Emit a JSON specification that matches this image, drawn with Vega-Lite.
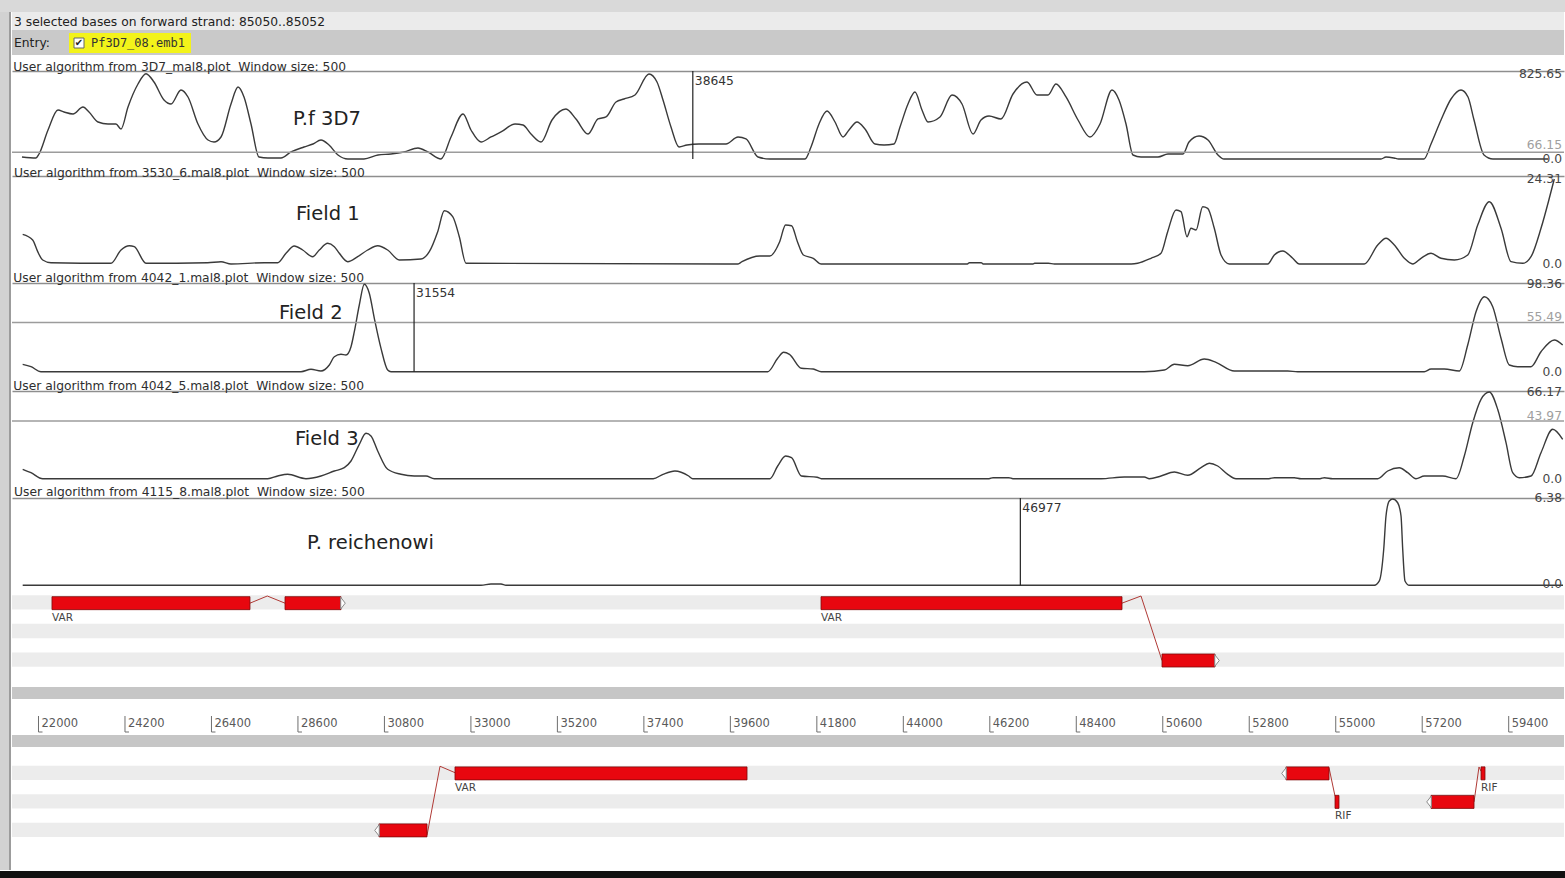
{
  "$schema": "https://vega.github.io/schema/vega-lite/v6.json",
  "background": "white",
  "padding": 0,
  "config": {
    "font": "DejaVu Sans",
    "view": {"stroke": null},
    "title": {"anchor": "start", "fontSize": 12.3, "fontWeight": "normal", "color": "#2e2e2e", "offset": -6, "font": "DejaVu Sans"}
  },
  "datasets": {
    "pf3d7": [
      {"pos": 21580, "score": 19.4}, {"pos": 21936, "score": 9.7}, {"pos": 22013, "score": 48.4}, {"pos": 22242, "score": 280.7},
      {"pos": 22496, "score": 474.3}, {"pos": 22649, "score": 455}, {"pos": 22878, "score": 435.6}, {"pos": 23132, "score": 503.4},
      {"pos": 23285, "score": 455}, {"pos": 23514, "score": 358.2}, {"pos": 23768, "score": 338.8}, {"pos": 23971, "score": 338.8},
      {"pos": 24099, "score": 290.4}, {"pos": 24277, "score": 503.4}, {"pos": 24531, "score": 726}, {"pos": 24735, "score": 825.65},
      {"pos": 24938, "score": 745.4}, {"pos": 25193, "score": 571.1}, {"pos": 25371, "score": 532.4}, {"pos": 25625, "score": 667.9},
      {"pos": 25803, "score": 600.2}, {"pos": 26057, "score": 338.8}, {"pos": 26312, "score": 183.9}, {"pos": 26465, "score": 164.6},
      {"pos": 26643, "score": 213}, {"pos": 26897, "score": 532.4}, {"pos": 27075, "score": 697}, {"pos": 27228, "score": 600.2},
      {"pos": 27406, "score": 338.8}, {"pos": 27609, "score": 19.4}, {"pos": 27838, "score": 9.7}, {"pos": 28169, "score": 9.7},
      {"pos": 28423, "score": 67.8}, {"pos": 28754, "score": 116.2}, {"pos": 28983, "score": 145.2}, {"pos": 29186, "score": 183.9},
      {"pos": 29390, "score": 135.5}, {"pos": 29619, "score": 38.7}, {"pos": 29873, "score": 0}, {"pos": 30280, "score": 0},
      {"pos": 30637, "score": 38.7}, {"pos": 30967, "score": 48.4}, {"pos": 31298, "score": 67.8}, {"pos": 31654, "score": 106.5},
      {"pos": 31908, "score": 67.8}, {"pos": 32239, "score": 0}, {"pos": 32494, "score": 213}, {"pos": 32799, "score": 435.6},
      {"pos": 33002, "score": 280.7}, {"pos": 33257, "score": 164.6}, {"pos": 33511, "score": 213}, {"pos": 33766, "score": 261.4},
      {"pos": 34122, "score": 338.8}, {"pos": 34325, "score": 329.1}, {"pos": 34529, "score": 242}, {"pos": 34783, "score": 164.6},
      {"pos": 35063, "score": 377.5}, {"pos": 35419, "score": 484}, {"pos": 35673, "score": 387.2}, {"pos": 35979, "score": 242},
      {"pos": 36233, "score": 387.2}, {"pos": 36437, "score": 406.6}, {"pos": 36691, "score": 551.8}, {"pos": 36894, "score": 580.8},
      {"pos": 37174, "score": 619.5}, {"pos": 37530, "score": 822.8}, {"pos": 37734, "score": 745.4}, {"pos": 37887, "score": 571.1},
      {"pos": 38090, "score": 309.8}, {"pos": 38294, "score": 116.2}, {"pos": 38497, "score": 135.5}, {"pos": 38802, "score": 145.2},
      {"pos": 39184, "score": 145.2}, {"pos": 39489, "score": 145.2}, {"pos": 39795, "score": 213}, {"pos": 39998, "score": 193.6},
      {"pos": 40303, "score": 19.4}, {"pos": 40609, "score": 0}, {"pos": 41499, "score": 0}, {"pos": 41652, "score": 116.2},
      {"pos": 41855, "score": 338.8}, {"pos": 42059, "score": 464.6}, {"pos": 42262, "score": 358.2}, {"pos": 42466, "score": 213},
      {"pos": 42618, "score": 280.7}, {"pos": 42822, "score": 358.2}, {"pos": 43025, "score": 290.4}, {"pos": 43280, "score": 145.2},
      {"pos": 43509, "score": 135.5}, {"pos": 43763, "score": 145.2}, {"pos": 43916, "score": 309.8}, {"pos": 44119, "score": 532.4},
      {"pos": 44297, "score": 648.6}, {"pos": 44475, "score": 474.3}, {"pos": 44628, "score": 358.2}, {"pos": 44933, "score": 406.6},
      {"pos": 45238, "score": 619.5}, {"pos": 45493, "score": 532.4}, {"pos": 45773, "score": 242}, {"pos": 45976, "score": 377.5},
      {"pos": 46180, "score": 416.2}, {"pos": 46485, "score": 387.2}, {"pos": 46790, "score": 629.2}, {"pos": 47146, "score": 745.4},
      {"pos": 47401, "score": 619.5}, {"pos": 47681, "score": 619.5}, {"pos": 47884, "score": 726}, {"pos": 48139, "score": 600.2},
      {"pos": 48444, "score": 377.5}, {"pos": 48749, "score": 213}, {"pos": 49003, "score": 338.8}, {"pos": 49309, "score": 667.9},
      {"pos": 49487, "score": 571.1}, {"pos": 49665, "score": 338.8}, {"pos": 49843, "score": 38.7}, {"pos": 50046, "score": 19.4},
      {"pos": 50479, "score": 19.4}, {"pos": 50733, "score": 48.4}, {"pos": 51115, "score": 48.4}, {"pos": 51268, "score": 164.6},
      {"pos": 51522, "score": 222.6}, {"pos": 51751, "score": 183.9}, {"pos": 52005, "score": 38.7}, {"pos": 52158, "score": 0},
      {"pos": 56152, "score": 0}, {"pos": 56279, "score": 19.4}, {"pos": 56483, "score": 9.7}, {"pos": 56600, "score": 0},
      {"pos": 57246, "score": 0}, {"pos": 57424, "score": 145.2}, {"pos": 57678, "score": 377.5}, {"pos": 57933, "score": 580.8},
      {"pos": 58187, "score": 667.9}, {"pos": 58365, "score": 600.2}, {"pos": 58518, "score": 377.5}, {"pos": 58772, "score": 38.7},
      {"pos": 59001, "score": 0}, {"pos": 60400, "score": 0}
    ],
    "field1": [
      {"pos": 21598, "score": 8.49}, {"pos": 21852, "score": 6.86}, {"pos": 21980, "score": 3.52}, {"pos": 22107, "score": 1.14},
      {"pos": 22318, "score": 0.37}, {"pos": 23844, "score": 0.2}, {"pos": 24099, "score": 4.0}, {"pos": 24310, "score": 5.23},
      {"pos": 24437, "score": 4.95}, {"pos": 24735, "score": 0.2}, {"pos": 26304, "score": 0.37}, {"pos": 26643, "score": 0.66},
      {"pos": 26897, "score": 0}, {"pos": 27744, "score": 0.37}, {"pos": 28085, "score": 0.37}, {"pos": 28296, "score": 3.06},
      {"pos": 28507, "score": 5.15}, {"pos": 28721, "score": 4.0}, {"pos": 28975, "score": 2.09}, {"pos": 29143, "score": 4.0},
      {"pos": 29357, "score": 5.92}, {"pos": 29525, "score": 4.95}, {"pos": 29652, "score": 3.06}, {"pos": 29866, "score": 0.66},
      {"pos": 30120, "score": 2.09}, {"pos": 30374, "score": 4.0}, {"pos": 30629, "score": 5.23}, {"pos": 30883, "score": 4.0},
      {"pos": 31178, "score": 1.14}, {"pos": 31730, "score": 1.43}, {"pos": 31942, "score": 3.52}, {"pos": 32155, "score": 9.24},
      {"pos": 32323, "score": 15.24}, {"pos": 32537, "score": 13.53}, {"pos": 32705, "score": 7.81}, {"pos": 32875, "score": 0.2},
      {"pos": 39795, "score": 0}, {"pos": 39896, "score": 0.66}, {"pos": 40352, "score": 2.29}, {"pos": 40604, "score": 2.29},
      {"pos": 40855, "score": 6.38}, {"pos": 41005, "score": 11.15}, {"pos": 41156, "score": 10.95}, {"pos": 41306, "score": 6.38},
      {"pos": 41458, "score": 2.57}, {"pos": 41710, "score": 1.63}, {"pos": 41911, "score": 0}, {"pos": 45630, "score": 0},
      {"pos": 45681, "score": 0.37}, {"pos": 45981, "score": 0.37}, {"pos": 46032, "score": 0}, {"pos": 47300, "score": 0},
      {"pos": 47340, "score": 0.2}, {"pos": 47691, "score": 0.2}, {"pos": 47843, "score": 0}, {"pos": 49800, "score": 0},
      {"pos": 49962, "score": 0.2}, {"pos": 50301, "score": 1.63}, {"pos": 50555, "score": 3.06}, {"pos": 50725, "score": 9.24},
      {"pos": 50937, "score": 15.44}, {"pos": 51064, "score": 14.96}, {"pos": 51217, "score": 7.81}, {"pos": 51318, "score": 10.21},
      {"pos": 51446, "score": 9.72}, {"pos": 51616, "score": 16.39}, {"pos": 51743, "score": 15.93}, {"pos": 51911, "score": 10.21},
      {"pos": 52082, "score": 2.57}, {"pos": 52293, "score": 0}, {"pos": 53270, "score": 0}, {"pos": 53438, "score": 2.57},
      {"pos": 53652, "score": 3.72}, {"pos": 53906, "score": 1.63}, {"pos": 54074, "score": 0}, {"pos": 55727, "score": 0},
      {"pos": 56068, "score": 5.43}, {"pos": 56279, "score": 7.35}, {"pos": 56491, "score": 5.43}, {"pos": 56745, "score": 1.63},
      {"pos": 56959, "score": 0}, {"pos": 57169, "score": 1.63}, {"pos": 57424, "score": 3.06}, {"pos": 57678, "score": 1.63},
      {"pos": 58017, "score": 1.14}, {"pos": 58358, "score": 2.57}, {"pos": 58612, "score": 11.15}, {"pos": 58907, "score": 17.82},
      {"pos": 59205, "score": 10.21}, {"pos": 59459, "score": 0.66}, {"pos": 59757, "score": 0.2}, {"pos": 59968, "score": 2.09},
      {"pos": 60222, "score": 10.21}, {"pos": 60433, "score": 18.79}, {"pos": 60560, "score": 24.31}
    ],
    "field2": [
      {"pos": 21598, "score": 8.33}, {"pos": 21809, "score": 5.63}, {"pos": 22064, "score": 0}, {"pos": 28678, "score": 0},
      {"pos": 28932, "score": 2.7}, {"pos": 29186, "score": 0.79}, {"pos": 29398, "score": 7.54}, {"pos": 29525, "score": 16.88},
      {"pos": 29695, "score": 19.58}, {"pos": 29822, "score": 18.79}, {"pos": 29950, "score": 28.14}, {"pos": 30034, "score": 45.02},
      {"pos": 30161, "score": 75.06}, {"pos": 30288, "score": 98.36}, {"pos": 30415, "score": 88.23}, {"pos": 30543, "score": 60.1},
      {"pos": 30713, "score": 26.33}, {"pos": 30883, "score": 1.91}, {"pos": 30967, "score": 0}, {"pos": 40552, "score": 0},
      {"pos": 40804, "score": 15.08}, {"pos": 40955, "score": 21.83}, {"pos": 41104, "score": 19.58}, {"pos": 41407, "score": 3.83},
      {"pos": 41710, "score": 3.04}, {"pos": 41911, "score": 0}, {"pos": 50131, "score": 0}, {"pos": 50640, "score": 1.91},
      {"pos": 50894, "score": 8.33}, {"pos": 51235, "score": 6.75}, {"pos": 51657, "score": 14.29}, {"pos": 51954, "score": 10.58},
      {"pos": 52420, "score": 0.79}, {"pos": 53778, "score": 0.79}, {"pos": 54033, "score": 0}, {"pos": 57253, "score": 0},
      {"pos": 57424, "score": 3.04}, {"pos": 57762, "score": 3.04}, {"pos": 58144, "score": 0.79}, {"pos": 58358, "score": 30.05},
      {"pos": 58569, "score": 67.52}, {"pos": 58780, "score": 84.41}, {"pos": 58994, "score": 73.15}, {"pos": 59205, "score": 37.59},
      {"pos": 59416, "score": 7.54}, {"pos": 59630, "score": 5.63}, {"pos": 59968, "score": 5.63}, {"pos": 60222, "score": 22.51},
      {"pos": 60560, "score": 35.68}, {"pos": 60774, "score": 30.05}
    ],
    "field3": [
      {"pos": 21598, "score": 7.17}, {"pos": 21809, "score": 4.58}, {"pos": 22107, "score": 0}, {"pos": 27831, "score": 0},
      {"pos": 28085, "score": 2.06}, {"pos": 28339, "score": 3.36}, {"pos": 28805, "score": 0}, {"pos": 29186, "score": 2.06},
      {"pos": 29525, "score": 5.88}, {"pos": 29779, "score": 8.4}, {"pos": 29950, "score": 13.51}, {"pos": 30161, "score": 26.25},
      {"pos": 30331, "score": 34.65}, {"pos": 30458, "score": 32.59}, {"pos": 30629, "score": 21.14}, {"pos": 30883, "score": 7.17},
      {"pos": 31222, "score": 3.36}, {"pos": 31560, "score": 2.06}, {"pos": 31858, "score": 2.06}, {"pos": 32069, "score": 0},
      {"pos": 37637, "score": 0}, {"pos": 37887, "score": 3.36}, {"pos": 38190, "score": 5.88}, {"pos": 38540, "score": 2.06},
      {"pos": 38642, "score": 0}, {"pos": 40609, "score": 0}, {"pos": 40804, "score": 9.69}, {"pos": 41005, "score": 17.32},
      {"pos": 41156, "score": 16.03}, {"pos": 41407, "score": 2.06}, {"pos": 41809, "score": 1.07}, {"pos": 41911, "score": 0},
      {"pos": 46180, "score": 0}, {"pos": 46281, "score": 0.76}, {"pos": 46686, "score": 0.76}, {"pos": 46788, "score": 0},
      {"pos": 49029, "score": 0}, {"pos": 49622, "score": 1.3}, {"pos": 50131, "score": 1.3}, {"pos": 50258, "score": 0},
      {"pos": 50555, "score": 2.06}, {"pos": 50894, "score": 5.11}, {"pos": 51235, "score": 2.59}, {"pos": 51573, "score": 8.4},
      {"pos": 51784, "score": 11.75}, {"pos": 51998, "score": 9.69}, {"pos": 52252, "score": 3.36}, {"pos": 52463, "score": 0},
      {"pos": 53300, "score": 0}, {"pos": 53438, "score": 0.76}, {"pos": 53947, "score": 0.76}, {"pos": 54117, "score": 0},
      {"pos": 54600, "score": 0}, {"pos": 54710, "score": 0.76}, {"pos": 54923, "score": 0}, {"pos": 56068, "score": 0},
      {"pos": 56322, "score": 5.88}, {"pos": 56617, "score": 8.4}, {"pos": 56831, "score": 4.58}, {"pos": 57042, "score": 0},
      {"pos": 57253, "score": 2.06}, {"pos": 57721, "score": 2.06}, {"pos": 58060, "score": 0}, {"pos": 58271, "score": 17.32},
      {"pos": 58485, "score": 42.74}, {"pos": 58696, "score": 60.6}, {"pos": 58907, "score": 66.17}, {"pos": 59120, "score": 52.97},
      {"pos": 59332, "score": 27.48}, {"pos": 59502, "score": 4.58}, {"pos": 59670, "score": 0.76}, {"pos": 59968, "score": 2.06},
      {"pos": 60222, "score": 19.84}, {"pos": 60519, "score": 37.7}, {"pos": 60774, "score": 30.07}
    ],
    "reichenowi": [
      {"pos": 21598, "score": 0}, {"pos": 33257, "score": 0}, {"pos": 33511, "score": 0.1}, {"pos": 33766, "score": 0.1},
      {"pos": 33893, "score": 0}, {"pos": 55982, "score": 0}, {"pos": 56109, "score": 0.32}, {"pos": 56221, "score": 2.66},
      {"pos": 56279, "score": 5.12}, {"pos": 56362, "score": 6.23}, {"pos": 56449, "score": 6.38}, {"pos": 56576, "score": 6.1},
      {"pos": 56661, "score": 5.12}, {"pos": 56704, "score": 2.66}, {"pos": 56762, "score": 0.32}, {"pos": 56872, "score": 0},
      {"pos": 60782, "score": 0}
    ],
    "forwardLanes": [
      {"lane": 0, "kind": "frame"}, {"lane": 1, "kind": "label"}, {"lane": 2, "kind": "frame"},
      {"lane": 3, "kind": "label"}, {"lane": 4, "kind": "frame"}, {"lane": 5, "kind": "label"}
    ],
    "reverseLanes": [
      {"lane": 0, "kind": "spare"}, {"lane": 1, "kind": "frame"}, {"lane": 2, "kind": "label"}, {"lane": 3, "kind": "frame"},
      {"lane": 4, "kind": "label"}, {"lane": 5, "kind": "frame"}, {"lane": 6, "kind": "label"}, {"lane": 7, "kind": "spare"}
    ],
    "forwardExons": [
      {"gene": "VAR-1", "start": 22343, "end": 27380, "lane": 0},
      {"gene": "VAR-1", "start": 28271, "end": 29695, "lane": 0},
      {"gene": "VAR-2", "start": 41906, "end": 49563, "lane": 0},
      {"gene": "VAR-2", "start": 50581, "end": 51929, "lane": 4}
    ],
    "forwardJoins": [
      {"gene": "VAR-1", "pos": 27380, "lane": 0}, {"gene": "VAR-1", "pos": 27820, "lane": -0.5}, {"gene": "VAR-1", "pos": 28271, "lane": 0},
      {"gene": "VAR-2", "pos": 49563, "lane": 0}, {"gene": "VAR-2", "pos": 50046, "lane": -0.5}, {"gene": "VAR-2", "pos": 50581, "lane": 4}
    ],
    "forwardEnds": [
      {"gene": "VAR-1", "pos": 29746, "lane": 0},
      {"gene": "VAR-2", "pos": 51980, "lane": 4}
    ],
    "forwardNames": [
      {"name": "VAR", "pos": 22343, "lane": 1},
      {"name": "VAR", "pos": 41906, "lane": 1}
    ],
    "reverseExons": [
      {"gene": "VAR-3", "start": 32595, "end": 40024, "lane": 1},
      {"gene": "VAR-3", "start": 30662, "end": 31883, "lane": 5},
      {"gene": "RIF-1", "start": 53735, "end": 54829, "lane": 1},
      {"gene": "RIF-1", "start": 54982, "end": 55083, "lane": 3},
      {"gene": "RIF-2", "start": 57424, "end": 58518, "lane": 3},
      {"gene": "RIF-2", "start": 58696, "end": 58797, "lane": 1}
    ],
    "reverseJoins": [
      {"gene": "VAR-3", "pos": 31883, "lane": 5.35}, {"gene": "VAR-3", "pos": 32214, "lane": 0.5}, {"gene": "VAR-3", "pos": 32595, "lane": 0.95},
      {"gene": "RIF-1", "pos": 54829, "lane": 0.6}, {"gene": "RIF-1", "pos": 54982, "lane": 2.6},
      {"gene": "RIF-2", "pos": 58518, "lane": 3}, {"gene": "RIF-2", "pos": 58645, "lane": 0.55}, {"gene": "RIF-2", "pos": 58696, "lane": 0.85}
    ],
    "reverseEnds": [
      {"gene": "VAR-3", "pos": 30611, "lane": 5},
      {"gene": "RIF-1", "pos": 53684, "lane": 1},
      {"gene": "RIF-2", "pos": 57373, "lane": 3}
    ],
    "reverseNames": [
      {"name": "VAR", "pos": 32595, "lane": 2},
      {"name": "RIF", "pos": 54982, "lane": 4},
      {"name": "RIF", "pos": 58696, "lane": 2}
    ],
    "rulerTicks": [
      {"pos": 22000}, {"pos": 24200}, {"pos": 26400}, {"pos": 28600}, {"pos": 30800}, {"pos": 33000},
      {"pos": 35200}, {"pos": 37400}, {"pos": 39600}, {"pos": 41800}, {"pos": 44000}, {"pos": 46200},
      {"pos": 48400}, {"pos": 50600}, {"pos": 52800}, {"pos": 55000}, {"pos": 57200}, {"pos": 59400}
    ]
  },
  "spacing": 0,
  "vconcat": [
    {"width": 1565, "height": 12, "view": {"fill": "#d9d9d9", "stroke": null}, "data": {"values": [{"t": " "}]}, "mark": {"type": "text", "opacity": 0, "fontSize": 1}, "encoding": {"text": {"field": "t"}}},
    {
      "spacing": 0,
      "hconcat": [
        {"width": 9, "height": 858, "view": {"fill": "#d2d2d2", "stroke": null}, "data": {"values": [{"t": " "}]}, "mark": {"type": "text", "opacity": 0, "fontSize": 1}, "encoding": {"text": {"field": "t"}}},
        {"width": 2, "height": 858, "view": {"fill": "#9c9c9c", "stroke": null}, "data": {"values": [{"t": " "}]}, "mark": {"type": "text", "opacity": 0, "fontSize": 1}, "encoding": {"text": {"field": "t"}}},
        {
          "spacing": 0,
          "resolve": {"scale": {"x": "independent", "y": "independent"}},
          "vconcat": [
            {
              "width": 1552, "height": 18, "view": {"fill": "#ebebeb", "stroke": null},
              "data": {"values": [{"message": "3 selected bases on forward strand: 85050..85052"}]},
              "mark": {"type": "text", "align": "left", "baseline": "middle", "fontSize": 12.3, "color": "#222", "x": 2, "y": 10},
              "encoding": {"text": {"field": "message"}}
            },
            {
              "width": 1552, "height": 25, "view": {"fill": "#c9c9c9", "stroke": null},
              "data": {"values": [{"entry": "Entry:", "file": "Pf3D7_08.emb1", "tick": "✔"}]},
              "layer": [
                {"mark": {"type": "rect", "color": "#f3f31a", "x": 57, "x2": 179, "y": 3, "y2": 23}, "encoding": {"text": {"field": "entry"}}},
                {"mark": {"type": "text", "align": "left", "baseline": "middle", "fontSize": 12.3, "color": "#222", "x": 2, "y": 13}, "encoding": {"text": {"field": "entry"}}},
                {"mark": {"type": "rect", "fill": "white", "stroke": "#666", "strokeWidth": 1, "x": 62, "x2": 72, "y": 8, "y2": 18}, "encoding": {"text": {"field": "entry"}}},
                {"mark": {"type": "text", "align": "center", "baseline": "middle", "fontSize": 10, "color": "#222", "x": 67, "y": 13}, "encoding": {"text": {"field": "tick"}}},
                {"mark": {"type": "text", "font": "DejaVu Sans Mono", "align": "left", "baseline": "middle", "fontSize": 12, "color": "#333", "x": 79, "y": 13}, "encoding": {"text": {"field": "file"}}}
              ]
            },
            {"width": 1552, "height": 6, "view": {"fill": "white", "stroke": null}, "data": {"values": [{"t": " "}]}, "mark": {"type": "text", "opacity": 0, "fontSize": 1}, "encoding": {"text": {"field": "t"}}},
            {
              "width": 1552, "height": 94, "view": {"fill": "white", "stroke": null},
              "title": {"text": "User algorithm from 3D7_mal8.plot \u00a0Window size: 500", "dx": 2},
              "layer": [
                {
                  "data": {"name": "pf3d7"},
                  "mark": {"type": "line", "color": "#3a3a3a", "strokeWidth": 1.4, "interpolate": "monotone", "clip": true},
                  "encoding": {
                    "x": {"field": "pos", "type": "quantitative", "scale": {"domain": [21326, 60807], "nice": false, "zero": false},
                          "axis": {"orient": "top", "domain": true, "domainColor": "#8e8e8e", "domainWidth": 1.5, "labels": false, "ticks": false, "grid": false, "title": null}},
                    "y": {"field": "score", "type": "quantitative", "scale": {"domain": [-58.1, 851.8], "nice": false, "zero": false}, "axis": null}
                  }
                },
                {
                  "data": {"values": [{"lo": 66.15, "label": "66.15"}]},
                  "layer": [
                    {"mark": {"type": "rule", "color": "#9c9c9c", "strokeWidth": 1.5}, "encoding": {"y": {"field": "lo", "type": "quantitative"}}},
                    {"mark": {"type": "text", "align": "right", "baseline": "alphabetic", "dx": -2, "dy": -3, "fontSize": 12.3, "color": "#a0a0a0", "x": 1552}, "encoding": {"y": {"field": "lo", "type": "quantitative"}, "text": {"field": "label"}}}
                  ]
                },
                {
                  "data": {"values": [{"at": 38645, "top": 851.8, "bottom": 0, "label": "38645"}]},
                  "layer": [
                    {"mark": {"type": "rule", "color": "#222", "strokeWidth": 1.2}, "encoding": {"x": {"field": "at", "type": "quantitative"}, "y": {"field": "top", "type": "quantitative"}, "y2": {"field": "bottom"}}},
                    {"mark": {"type": "text", "align": "left", "baseline": "top", "dx": 2, "dy": 4, "fontSize": 12.3, "color": "#333"}, "encoding": {"x": {"field": "at", "type": "quantitative"}, "y": {"field": "top", "type": "quantitative"}, "text": {"field": "label"}}}
                  ]
                },
                {
                  "data": {"values": [{"at": 28474, "level": 387, "label": "P.f 3D7"}]},
                  "mark": {"type": "text", "align": "left", "baseline": "middle", "fontSize": 19.5, "color": "#222"},
                  "encoding": {"x": {"field": "at", "type": "quantitative"}, "y": {"field": "level", "type": "quantitative"}, "text": {"field": "label"}}
                },
                {
                  "data": {"values": [{"v": 825.65, "label": "825.65", "kind": "max"}, {"v": 0, "label": "0.0", "kind": "min"}]},
                  "mark": {"type": "text", "align": "right", "dx": -2, "fontSize": 12.3, "color": "#444", "x": 1552},
                  "encoding": {"y": {"field": "v", "type": "quantitative"}, "text": {"field": "label"},
                               "baseline": {"condition": {"test": "datum.kind === 'max'", "value": "top"}, "value": "middle"}}
                }
              ]
            },
            {
              "width": 1552, "height": 94, "view": {"fill": "white", "stroke": null},
              "title": {"text": "User algorithm from 3530_6.mal8.plot \u00a0Window size: 500", "dx": 2},
              "layer": [
                {
                  "data": {"name": "field1"},
                  "mark": {"type": "line", "color": "#3a3a3a", "strokeWidth": 1.4, "interpolate": "monotone", "clip": true},
                  "encoding": {
                    "x": {"field": "pos", "type": "quantitative", "scale": {"domain": [21326, 60807], "nice": false, "zero": false},
                          "axis": {"orient": "top", "domain": true, "domainColor": "#8e8e8e", "domainWidth": 1.5, "labels": false, "ticks": false, "grid": false, "title": null}},
                    "y": {"field": "score", "type": "quantitative", "scale": {"domain": [-1.72, 25.17], "nice": false, "zero": false}, "axis": null}
                  }
                },
                {
                  "data": {"values": [{"at": 28551, "level": 14.3, "label": "Field 1"}]},
                  "mark": {"type": "text", "align": "left", "baseline": "middle", "fontSize": 19.5, "color": "#222"},
                  "encoding": {"x": {"field": "at", "type": "quantitative"}, "y": {"field": "level", "type": "quantitative"}, "text": {"field": "label"}}
                },
                {
                  "data": {"values": [{"v": 24.31, "label": "24.31", "kind": "max"}, {"v": 0, "label": "0.0", "kind": "min"}]},
                  "mark": {"type": "text", "align": "right", "dx": -2, "fontSize": 12.3, "color": "#444", "x": 1552},
                  "encoding": {"y": {"field": "v", "type": "quantitative"}, "text": {"field": "label"},
                               "baseline": {"condition": {"test": "datum.kind === 'max'", "value": "top"}, "value": "alphabetic"}}
                }
              ]
            },
            {
              "width": 1552, "height": 94, "view": {"fill": "white", "stroke": null},
              "title": {"text": "User algorithm from 4042_1.mal8.plot \u00a0Window size: 500", "dx": 2},
              "layer": [
                {
                  "data": {"name": "field2"},
                  "mark": {"type": "line", "color": "#3a3a3a", "strokeWidth": 1.4, "interpolate": "monotone", "clip": true},
                  "encoding": {
                    "x": {"field": "pos", "type": "quantitative", "scale": {"domain": [21326, 60807], "nice": false, "zero": false},
                          "axis": {"orient": "top", "domain": true, "domainColor": "#8e8e8e", "domainWidth": 1.5, "labels": false, "ticks": false, "grid": false, "title": null}},
                    "y": {"field": "score", "type": "quantitative", "scale": {"domain": [-5.96, 99.82], "nice": false, "zero": false}, "axis": null}
                  }
                },
                {
                  "data": {"values": [{"lo": 55.49, "label": "55.49"}]},
                  "layer": [
                    {"mark": {"type": "rule", "color": "#9c9c9c", "strokeWidth": 1.5}, "encoding": {"y": {"field": "lo", "type": "quantitative"}}},
                    {"mark": {"type": "text", "align": "right", "baseline": "alphabetic", "dx": -2, "dy": -1, "fontSize": 12.3, "color": "#a0a0a0", "x": 1552}, "encoding": {"y": {"field": "lo", "type": "quantitative"}, "text": {"field": "label"}}}
                  ]
                },
                {
                  "data": {"values": [{"at": 31554, "top": 99.82, "bottom": 0, "label": "31554"}]},
                  "layer": [
                    {"mark": {"type": "rule", "color": "#222", "strokeWidth": 1.2}, "encoding": {"x": {"field": "at", "type": "quantitative"}, "y": {"field": "top", "type": "quantitative"}, "y2": {"field": "bottom"}}},
                    {"mark": {"type": "text", "align": "left", "baseline": "top", "dx": 2, "dy": 4, "fontSize": 12.3, "color": "#333"}, "encoding": {"x": {"field": "at", "type": "quantitative"}, "y": {"field": "top", "type": "quantitative"}, "text": {"field": "label"}}}
                  ]
                },
                {
                  "data": {"values": [{"at": 28118, "level": 66.06, "label": "Field 2"}]},
                  "mark": {"type": "text", "align": "left", "baseline": "middle", "fontSize": 19.5, "color": "#222"},
                  "encoding": {"x": {"field": "at", "type": "quantitative"}, "y": {"field": "level", "type": "quantitative"}, "text": {"field": "label"}}
                },
                {
                  "data": {"values": [{"v": 98.36, "label": "98.36", "kind": "max"}, {"v": 0, "label": "0.0", "kind": "min"}]},
                  "mark": {"type": "text", "align": "right", "dx": -2, "fontSize": 12.3, "color": "#444", "x": 1552},
                  "encoding": {"y": {"field": "v", "type": "quantitative"}, "text": {"field": "label"},
                               "baseline": {"condition": {"test": "datum.kind === 'max'", "value": "top"}, "value": "alphabetic"}}
                }
              ]
            },
            {
              "width": 1552, "height": 94, "view": {"fill": "white", "stroke": null},
              "title": {"text": "User algorithm from 4042_5.mal8.plot \u00a0Window size: 500", "dx": 2},
              "layer": [
                {
                  "data": {"name": "field3"},
                  "mark": {"type": "line", "color": "#3a3a3a", "strokeWidth": 1.4, "interpolate": "monotone", "clip": true},
                  "encoding": {
                    "x": {"field": "pos", "type": "quantitative", "scale": {"domain": [21326, 60807], "nice": false, "zero": false},
                          "axis": {"orient": "top", "domain": true, "domainColor": "#8e8e8e", "domainWidth": 1.5, "labels": false, "ticks": false, "grid": false, "title": null}},
                    "y": {"field": "score", "type": "quantitative", "scale": {"domain": [-4.81, 66.93], "nice": false, "zero": false}, "axis": null}
                  }
                },
                {
                  "data": {"values": [{"lo": 43.97, "label": "43.97"}]},
                  "layer": [
                    {"mark": {"type": "rule", "color": "#9c9c9c", "strokeWidth": 1.5}, "encoding": {"y": {"field": "lo", "type": "quantitative"}}},
                    {"mark": {"type": "text", "align": "right", "baseline": "alphabetic", "dx": -2, "dy": -1, "fontSize": 12.3, "color": "#a0a0a0", "x": 1552}, "encoding": {"y": {"field": "lo", "type": "quantitative"}, "text": {"field": "label"}}}
                  ]
                },
                {
                  "data": {"values": [{"at": 28525, "level": 30.3, "label": "Field 3"}]},
                  "mark": {"type": "text", "align": "left", "baseline": "middle", "fontSize": 19.5, "color": "#222"},
                  "encoding": {"x": {"field": "at", "type": "quantitative"}, "y": {"field": "level", "type": "quantitative"}, "text": {"field": "label"}}
                },
                {
                  "data": {"values": [{"v": 66.17, "label": "66.17", "kind": "max"}, {"v": 0, "label": "0.0", "kind": "min"}]},
                  "mark": {"type": "text", "align": "right", "dx": -2, "fontSize": 12.3, "color": "#444", "x": 1552},
                  "encoding": {"y": {"field": "v", "type": "quantitative"}, "text": {"field": "label"},
                               "baseline": {"condition": {"test": "datum.kind === 'max'", "value": "top"}, "value": "alphabetic"}}
                }
              ]
            },
            {
              "width": 1552, "height": 88, "view": {"fill": "white", "stroke": null},
              "title": {"text": "User algorithm from 4115_8.mal8.plot \u00a0Window size: 500", "dx": 2},
              "layer": [
                {
                  "data": {"name": "reichenowi"},
                  "mark": {"type": "line", "color": "#3a3a3a", "strokeWidth": 1.4, "interpolate": "monotone", "clip": true},
                  "encoding": {
                    "x": {"field": "pos", "type": "quantitative", "scale": {"domain": [21326, 60807], "nice": false, "zero": false},
                          "axis": {"orient": "top", "domain": true, "domainColor": "#8e8e8e", "domainWidth": 1.5, "labels": false, "ticks": false, "grid": false, "title": null}},
                    "y": {"field": "score", "type": "quantitative", "scale": {"domain": [-0.052, 6.451], "nice": false, "zero": false}, "axis": null}
                  }
                },
                {
                  "data": {"values": [{"at": 46977, "top": 6.451, "bottom": 0, "label": "46977"}]},
                  "layer": [
                    {"mark": {"type": "rule", "color": "#222", "strokeWidth": 1.2}, "encoding": {"x": {"field": "at", "type": "quantitative"}, "y": {"field": "top", "type": "quantitative"}, "y2": {"field": "bottom"}}},
                    {"mark": {"type": "text", "align": "left", "baseline": "top", "dx": 2, "dy": 4, "fontSize": 12.3, "color": "#333"}, "encoding": {"x": {"field": "at", "type": "quantitative"}, "y": {"field": "top", "type": "quantitative"}, "text": {"field": "label"}}}
                  ]
                },
                {
                  "data": {"values": [{"at": 28830, "level": 3.13, "label": "P. reichenowi"}]},
                  "mark": {"type": "text", "align": "left", "baseline": "middle", "fontSize": 19.5, "color": "#222"},
                  "encoding": {"x": {"field": "at", "type": "quantitative"}, "y": {"field": "level", "type": "quantitative"}, "text": {"field": "label"}}
                },
                {
                  "data": {"values": [{"v": 6.38, "label": "6.38", "kind": "max"}, {"v": 0, "label": "0.0", "kind": "min"}]},
                  "mark": {"type": "text", "align": "right", "dx": -2, "dy": -1, "fontSize": 12.3, "color": "#444", "x": 1552},
                  "encoding": {"y": {"field": "v", "type": "quantitative"}, "text": {"field": "label"},
                               "baseline": {"condition": {"test": "datum.kind === 'max'", "value": "top"}, "value": "alphabetic"}}
                }
              ]
            },
            {
              "width": 1552, "height": 96, "view": {"fill": "white", "stroke": null},
              "layer": [
                {
                  "data": {"name": "forwardLanes"},
                  "mark": {"type": "tick", "orient": "horizontal", "size": 1552, "thickness": 16, "opacity": 1},
                  "encoding": {
                    "y": {"field": "lane", "type": "quantitative", "scale": {"domain": [-0.5, 5.5], "reverse": true, "nice": false, "zero": false}, "axis": null},
                    "color": {"condition": {"test": "datum.kind === 'frame'", "value": "#ececec"}, "value": "#ffffff"}
                  }
                },
                {
                  "data": {"name": "forwardJoins"},
                  "mark": {"type": "line", "color": "#b03a36", "strokeWidth": 1},
                  "encoding": {
                    "x": {"field": "pos", "type": "quantitative", "scale": {"domain": [21326, 60807], "nice": false, "zero": false}, "axis": null},
                    "y": {"field": "lane", "type": "quantitative"},
                    "detail": {"field": "gene", "type": "nominal"}
                  }
                },
                {
                  "data": {"name": "forwardExons"},
                  "mark": {"type": "bar", "height": 13, "fill": "#e8070f", "stroke": "#7d0a0a", "strokeWidth": 0.8},
                  "encoding": {"x": {"field": "start", "type": "quantitative"}, "x2": {"field": "end"}, "y": {"field": "lane", "type": "quantitative"}}
                },
                {
                  "data": {"name": "forwardEnds"},
                  "mark": {"type": "point", "shape": "M-0.35,-0.9L0.35,0L-0.35,0.9Z", "size": 169, "filled": true, "fill": "white", "stroke": "#8a8a8a", "strokeWidth": 1, "opacity": 1},
                  "encoding": {"x": {"field": "pos", "type": "quantitative"}, "y": {"field": "lane", "type": "quantitative"}}
                },
                {
                  "data": {"name": "forwardNames"},
                  "mark": {"type": "text", "align": "left", "baseline": "middle", "fontSize": 10.5, "color": "#444"},
                  "encoding": {"x": {"field": "pos", "type": "quantitative"}, "y": {"field": "lane", "type": "quantitative"}, "text": {"field": "name"}}
                }
              ]
            },
            {"width": 1552, "height": 12, "view": {"fill": "#c6c6c6", "stroke": null}, "data": {"values": [{"t": " "}]}, "mark": {"type": "text", "opacity": 0, "fontSize": 1}, "encoding": {"text": {"field": "t"}}},
            {
              "width": 1552, "height": 36, "view": {"fill": "white", "stroke": null},
              "data": {"name": "rulerTicks"},
              "layer": [
                {"mark": {"type": "tick", "orient": "vertical", "size": 16, "thickness": 1, "yOffset": 7, "color": "#6e6e6e", "opacity": 1},
                 "encoding": {"x": {"field": "pos", "type": "quantitative", "scale": {"domain": [21326, 60807], "nice": false, "zero": false}, "axis": null}}},
                {"mark": {"type": "tick", "orient": "horizontal", "size": 4, "thickness": 1, "xOffset": 2, "yOffset": 15, "color": "#6e6e6e", "opacity": 1},
                 "encoding": {"x": {"field": "pos", "type": "quantitative"}}},
                {"mark": {"type": "text", "align": "left", "baseline": "middle", "dx": 3, "dy": 7, "fontSize": 11.5, "color": "#5a5a5a"},
                 "encoding": {"x": {"field": "pos", "type": "quantitative"}, "text": {"field": "pos", "type": "quantitative", "format": "d"}}}
              ]
            },
            {"width": 1552, "height": 12, "view": {"fill": "#c6c6c6", "stroke": null}, "data": {"values": [{"t": " "}]}, "mark": {"type": "text", "opacity": 0, "fontSize": 1}, "encoding": {"text": {"field": "t"}}},
            {
              "width": 1552, "height": 124, "view": {"fill": "white", "stroke": null},
              "layer": [
                {
                  "data": {"name": "reverseLanes"},
                  "mark": {"type": "tick", "orient": "horizontal", "size": 1552, "thickness": 15.5, "opacity": 1},
                  "encoding": {
                    "y": {"field": "lane", "type": "quantitative", "scale": {"domain": [-0.5, 7.5], "reverse": true, "nice": false, "zero": false}, "axis": null},
                    "color": {"condition": {"test": "datum.kind === 'frame'", "value": "#ececec"}, "value": "#ffffff"}
                  }
                },
                {
                  "data": {"name": "reverseJoins"},
                  "mark": {"type": "line", "color": "#b03a36", "strokeWidth": 1},
                  "encoding": {
                    "x": {"field": "pos", "type": "quantitative", "scale": {"domain": [21326, 60807], "nice": false, "zero": false}, "axis": null},
                    "y": {"field": "lane", "type": "quantitative"},
                    "detail": {"field": "gene", "type": "nominal"}
                  }
                },
                {
                  "data": {"name": "reverseExons"},
                  "mark": {"type": "bar", "height": 13, "fill": "#e8070f", "stroke": "#7d0a0a", "strokeWidth": 0.8},
                  "encoding": {"x": {"field": "start", "type": "quantitative"}, "x2": {"field": "end"}, "y": {"field": "lane", "type": "quantitative"}}
                },
                {
                  "data": {"name": "reverseEnds"},
                  "mark": {"type": "point", "shape": "M0.35,-0.9L-0.35,0L0.35,0.9Z", "size": 169, "filled": true, "fill": "white", "stroke": "#8a8a8a", "strokeWidth": 1, "opacity": 1},
                  "encoding": {"x": {"field": "pos", "type": "quantitative"}, "y": {"field": "lane", "type": "quantitative"}}
                },
                {
                  "data": {"name": "reverseNames"},
                  "mark": {"type": "text", "align": "left", "baseline": "middle", "fontSize": 10.5, "color": "#444"},
                  "encoding": {"x": {"field": "pos", "type": "quantitative"}, "y": {"field": "lane", "type": "quantitative"}, "text": {"field": "name"}}
                }
              ]
            }
          ]
        },
        {"width": 2, "height": 858, "view": {"fill": "#8f8f8f", "stroke": null}, "data": {"values": [{"t": " "}]}, "mark": {"type": "text", "opacity": 0, "fontSize": 1}, "encoding": {"text": {"field": "t"}}}
      ]
    },
    {"width": 1565, "height": 8, "view": {"fill": "#111111", "stroke": null}, "data": {"values": [{"t": " "}]}, "mark": {"type": "text", "opacity": 0, "fontSize": 1}, "encoding": {"text": {"field": "t"}}}
  ]
}
